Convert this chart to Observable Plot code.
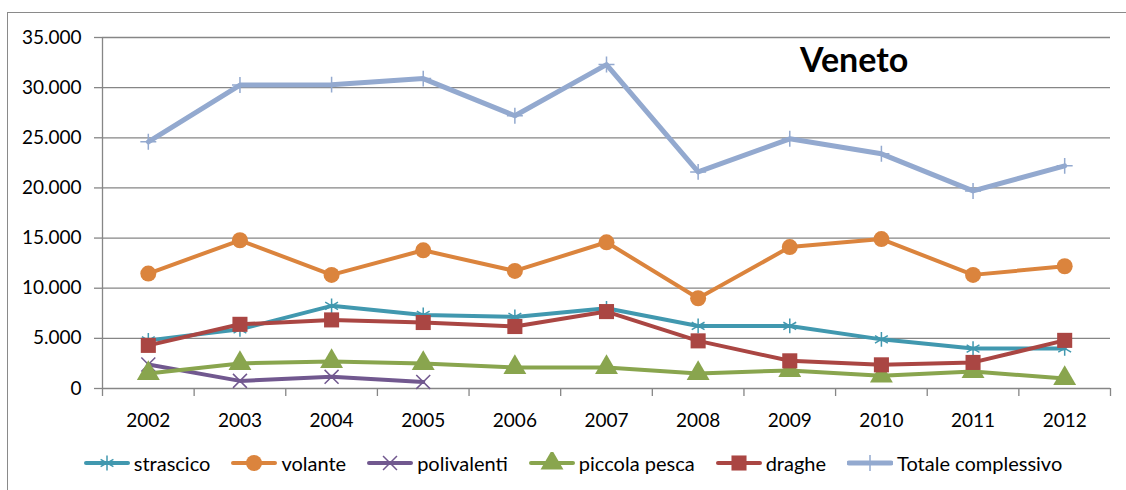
<!DOCTYPE html>
<html>
<head>
<meta charset="utf-8">
<script src="https://cdn.jsdelivr.net/npm/d3@7"></script>
<script src="https://cdn.jsdelivr.net/npm/@observablehq/plot@0.6"></script>
<style>
  html, body { margin: 0; padding: 0; background: #fff; }
  #wrap { position: relative; width: 1126px; height: 490px; overflow: hidden; font-family: Lato, "Open Sans", sans-serif; }
  #border { position: absolute; left: 7px; top: 12px; right: -10px; bottom: -10px; border-left: 1.3px solid #8a8a8a; border-top: 1.3px solid #8a8a8a; }
  #chart { position: absolute; left: 0; top: 0; }
  #title { position: absolute; left: 800px; top: 39px; font: bold 34px Lato, sans-serif; color: #000; line-height: 40px; }
  #legend { position: absolute; left: 10px; top: 451px; width: 1126px; display: flex; justify-content: center; align-items: center; font-size: 20px; color: #000; }
  .item { display: flex; align-items: center; margin: 0 10.5px; }
  .item svg { margin-right: 4px; }
</style>
</head>
<body>
<div id="wrap">
  <div id="border"></div>
  <div id="chart"></div>
  <div id="title"></div>
  <div id="legend"></div>
</div>
<script>
const titleText = "Veneto";
const years = [2002, 2003, 2004, 2005, 2006, 2007, 2008, 2009, 2010, 2011, 2012];
const seriesNames = ["strascico", "volante", "polivalenti", "piccola pesca", "draghe", "Totale complessivo"];
const seriesColors = ["#4198AF", "#DB843D", "#71588F", "#89A54E", "#AA4643", "#93A9CF"];
const seriesSymbols = ["asterisk", "circle", "times", "triangle", "square", "plus"];

const strascico   = [4800, 5900, 8240, 7340, 7140, 8000, 6240, 6240, 4900, 3980, 4000];
const volante     = [11460, 14780, 11330, 13780, 11720, 14580, 9000, 14100, 14900, 11330, 12190];
const polivalenti = [2400, 760, 1160, 660, null, null, null, null, null, null, null];
const piccolaPesca = [1500, 2500, 2700, 2500, 2100, 2100, 1500, 1800, 1260, 1700, 1000];
const draghe      = [4300, 6400, 6840, 6580, 6180, 7670, 4750, 2760, 2360, 2600, 4800];
const totale      = [24600, 30260, 30300, 30900, 27200, 32300, 21600, 24900, 23400, 19700, 22200];

const yTicks = [0, 5000, 10000, 15000, 20000, 25000, 30000, 35000];
const xBounds = [2001.5, 2002.5, 2003.5, 2004.5, 2005.5, 2006.5, 2007.5, 2008.5, 2009.5, 2010.5, 2011.5, 2012.5];

const seriesValues = [strascico, volante, polivalenti, piccolaPesca, draghe, totale];
const fmt = d => d === 0 ? "0" : d3.format(",")(d).replace(/,/g, ".");

const markStyle = [
  {lw: 4, r: 7, stroke: true, sw: 1.5},
  {lw: 4, r: 8, stroke: false},
  {lw: 4, r: 6.4, stroke: true, sw: 1.5},
  {lw: 4, r: 8.5, stroke: false},
  {lw: 4, r: 8.5, stroke: false},
  {lw: 5, r: 5.2, stroke: true, sw: 1.5}
];

const marks = [
  Plot.gridY(yTicks, {stroke: "#868686", strokeOpacity: 1, strokeWidth: 1.3}),
  Plot.axisY(yTicks, {tickSize: 8, tickPadding: 13, tickFormat: fmt, fontSize: 19, stroke: "#868686", strokeWidth: 1.3, fill: "#000", label: null}),
  Plot.ruleX([xBounds[0]], {stroke: "#868686", strokeWidth: 1.3}),
  Plot.axisX(xBounds, {tickSize: 8, tickFormat: () => "", stroke: "#868686", strokeWidth: 1.3, label: null}),
  Plot.axisX(years, {tickSize: 0, tickPadding: 25, tickFormat: d => String(d), fontSize: 19, fill: "#000", label: null})
];

seriesNames.forEach((name, i) => {
  const rows = years.map((y, j) => ({year: y, value: seriesValues[i][j]})).filter(d => d.value != null);
  const st = markStyle[i];
  marks.push(Plot.line(rows, {x: "year", y: "value", stroke: seriesColors[i], strokeWidth: st.lw, strokeLinejoin: "round", strokeLinecap: "round"}));
  if (st.stroke) {
    marks.push(Plot.dot(rows, {x: "year", y: "value", symbol: () => seriesSymbols[i], r: st.r, stroke: seriesColors[i], strokeWidth: st.sw, fill: "none"}));
  } else {
    marks.push(Plot.dot(rows, {x: "year", y: "value", symbol: () => seriesSymbols[i], r: st.r, fill: seriesColors[i], stroke: "none"}));
  }
});

const chart = Plot.plot({
  width: 1126,
  height: 430,
  marginLeft: 102,
  marginRight: 16,
  marginTop: 37,
  marginBottom: 42,
  style: {fontFamily: "Lato, sans-serif", fontSize: "19px", color: "#000", background: "transparent", overflow: "visible"},
  x: {type: "linear", domain: [2001.5, 2012.5], axis: null},
  y: {domain: [0, 35000], axis: null},
  symbol: {type: "identity"},
  marks
});
document.getElementById("chart").appendChild(chart);
document.getElementById("title").textContent = titleText;

const symMap = {asterisk: d3.symbolAsterisk, circle: d3.symbolCircle, times: d3.symbolTimes, triangle: d3.symbolTriangle, square: d3.symbolSquare, plus: d3.symbolPlus};
const legend = document.getElementById("legend");
seriesNames.forEach((name, i) => {
  const item = document.createElement("div");
  item.className = "item";
  const st = markStyle[i];
  const svg = d3.create("svg").attr("width", 46).attr("height", 22);
  svg.append("line").attr("x1", 2).attr("x2", 44).attr("y1", 11).attr("y2", 11)
    .attr("stroke", seriesColors[i]).attr("stroke-width", st.lw).attr("stroke-linecap", "round");
  const p = d3.symbol(symMap[seriesSymbols[i]], Math.PI * st.r * st.r)();
  const path = svg.append("path").attr("d", p).attr("transform", "translate(23,11)");
  if (st.stroke) path.attr("fill", "none").attr("stroke", seriesColors[i]).attr("stroke-width", st.sw);
  else path.attr("fill", seriesColors[i]);
  item.appendChild(svg.node());
  const span = document.createElement("span");
  span.textContent = name;
  item.appendChild(span);
  legend.appendChild(item);
});
</script>
</body>
</html>
